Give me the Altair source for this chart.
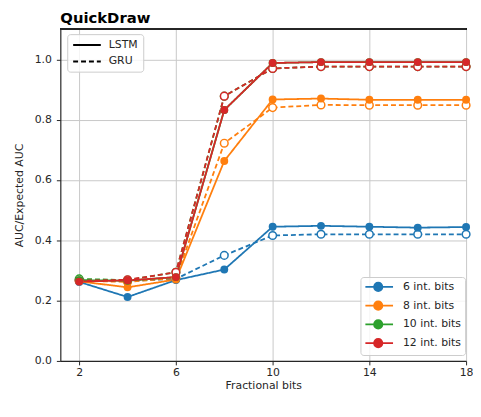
import altair as alt
import pandas as pd

frac_bits = [2, 4, 6, 8, 10, 12, 14, 16, 18]
int_bits_labels = ["6 int. bits", "8 int. bits", "10 int. bits", "12 int. bits"]
colors = ["#1f77b4", "#ff7f0e", "#2ca02c", "#d62728"]
models = ["LSTM", "GRU"]

lstm_6 = [0.262, 0.212, 0.268, 0.303, 0.445, 0.448, 0.445, 0.442, 0.444]
lstm_8 = [0.264, 0.244, 0.270, 0.663, 0.867, 0.870, 0.866, 0.866, 0.866]
lstm_10 = [0.268, 0.266, 0.278, 0.832, 0.988, 0.991, 0.991, 0.991, 0.991]
lstm_12 = [0.263, 0.267, 0.278, 0.832, 0.988, 0.991, 0.991, 0.991, 0.991]

gru_6 = [0.268, 0.265, 0.272, 0.350, 0.416, 0.420, 0.420, 0.420, 0.420]
gru_8 = [0.266, 0.262, 0.275, 0.722, 0.840, 0.849, 0.848, 0.848, 0.848]
gru_10 = [0.272, 0.268, 0.294, 0.878, 0.970, 0.976, 0.976, 0.976, 0.976]
gru_12 = [0.266, 0.269, 0.294, 0.878, 0.970, 0.976, 0.976, 0.976, 0.976]

series = {
    ("LSTM", "6 int. bits"): lstm_6,
    ("LSTM", "8 int. bits"): lstm_8,
    ("LSTM", "10 int. bits"): lstm_10,
    ("LSTM", "12 int. bits"): lstm_12,
    ("GRU", "6 int. bits"): gru_6,
    ("GRU", "8 int. bits"): gru_8,
    ("GRU", "10 int. bits"): gru_10,
    ("GRU", "12 int. bits"): gru_12,
}

rows = []
for ib_i, ib in enumerate(int_bits_labels):
    for m in models:
        vals = series[(m, ib)]
        for x, v in zip(frac_bits, vals):
            rows.append({"frac": x, "auc": v, "model": m, "bits": ib,
                         "grp": ib_i * 2 + (0 if m == "LSTM" else 1)})
df = pd.DataFrame(rows)

FONT = "DejaVu Sans"
INK = "#262626"
W, H = 411, 336

xenc = alt.X("frac:Q", title="Fractional bits",
             scale=alt.Scale(domain=[1.22, 18.0], nice=False, zero=False),
             axis=alt.Axis(values=[2, 6, 10, 14, 18], format="d", labelFlush=False))
yenc = alt.Y("auc:Q", title="AUC/Expected AUC",
             scale=alt.Scale(domain=[0, 1.1], nice=False),
             axis=alt.Axis(values=[0, 0.2, 0.4, 0.6, 0.8, 1.0], format=".1f"))

color_scale = alt.Scale(domain=int_bits_labels, range=colors)
sym_line_dot = "M-1,0H4.6M0.76,0A0.84,0.84 0 1 1 2.44,0A0.84,0.84 0 1 1 0.76,0"
sym_line = "M-1,0H4.6"

lines = alt.Chart(df).mark_line(strokeWidth=1.8).encode(
    x=xenc,
    y=yenc,
    color=alt.Color("bits:N", scale=color_scale, title=None,
                    legend=alt.Legend(orient="none", legendX=304, legendY=H - 85,
                                      symbolType=sym_line_dot, symbolSize=100,
                                      symbolStrokeWidth=1.8, rowPadding=3,
                                      labelOffset=27, padding=4)),
    strokeDash=alt.StrokeDash("model:N",
                              scale=alt.Scale(domain=models, range=[[1, 0], [5, 3]]),
                              title=None,
                              legend=alt.Legend(orient="none", legendX=7, legendY=5,
                                                symbolType=sym_line, symbolSize=100,
                                                symbolStrokeColor="black",
                                                symbolStrokeWidth=1.8, rowPadding=5.7,
                                                labelOffset=25, padding=5)),
    detail="grp:N",
)

pts_lstm = alt.Chart(df).transform_filter(alt.datum.model == "LSTM").mark_point(
    filled=True, size=64, opacity=1
).encode(
    x=xenc, y=yenc,
    color=alt.Color("bits:N", scale=color_scale, title=None),
)

pts_gru = alt.Chart(df).transform_filter(alt.datum.model == "GRU").mark_point(
    filled=False, fill="white", size=60, strokeWidth=1.5, opacity=1
).encode(
    x=xenc, y=yenc,
    color=alt.Color("bits:N", scale=color_scale, title=None),
)

top_spine = alt.Chart(df).mark_rule(color=INK, strokeWidth=1.2).encode(
    x=alt.value(0), x2=alt.value(W), y=alt.value(0)
)

chart = alt.layer(lines, pts_gru, pts_lstm, top_spine).properties(
    width=W, height=H,
    padding={"left": 5, "top": 0, "right": 0, "bottom": 0},
    title=alt.TitleParams("QuickDraw", anchor="start", frame="group", fontSize=15,
                          fontWeight="bold", font=FONT, offset=3, color="black"),
).configure_axis(
    labelFont=FONT, titleFont=FONT, labelFontSize=11, titleFontSize=11,
    labelColor=INK, titleColor=INK, titleFontWeight="normal",
    gridColor="#c8c8c8", gridWidth=1, domainColor=INK, tickColor=INK,
    tickSize=4, domainWidth=1.2,
).configure_axisY(titlePadding=10, labelPadding=5).configure_axisX(
    titlePadding=2, labelPadding=2
).configure_view(
    stroke=None
).configure_legend(
    labelFont=FONT, labelFontSize=11, labelColor=INK,
    fillColor="rgba(255,255,255,0.8)", strokeColor="#cccccc", cornerRadius=3,
)

chart.save("out.html", embed_options={"renderer": "svg", "actions": False})
